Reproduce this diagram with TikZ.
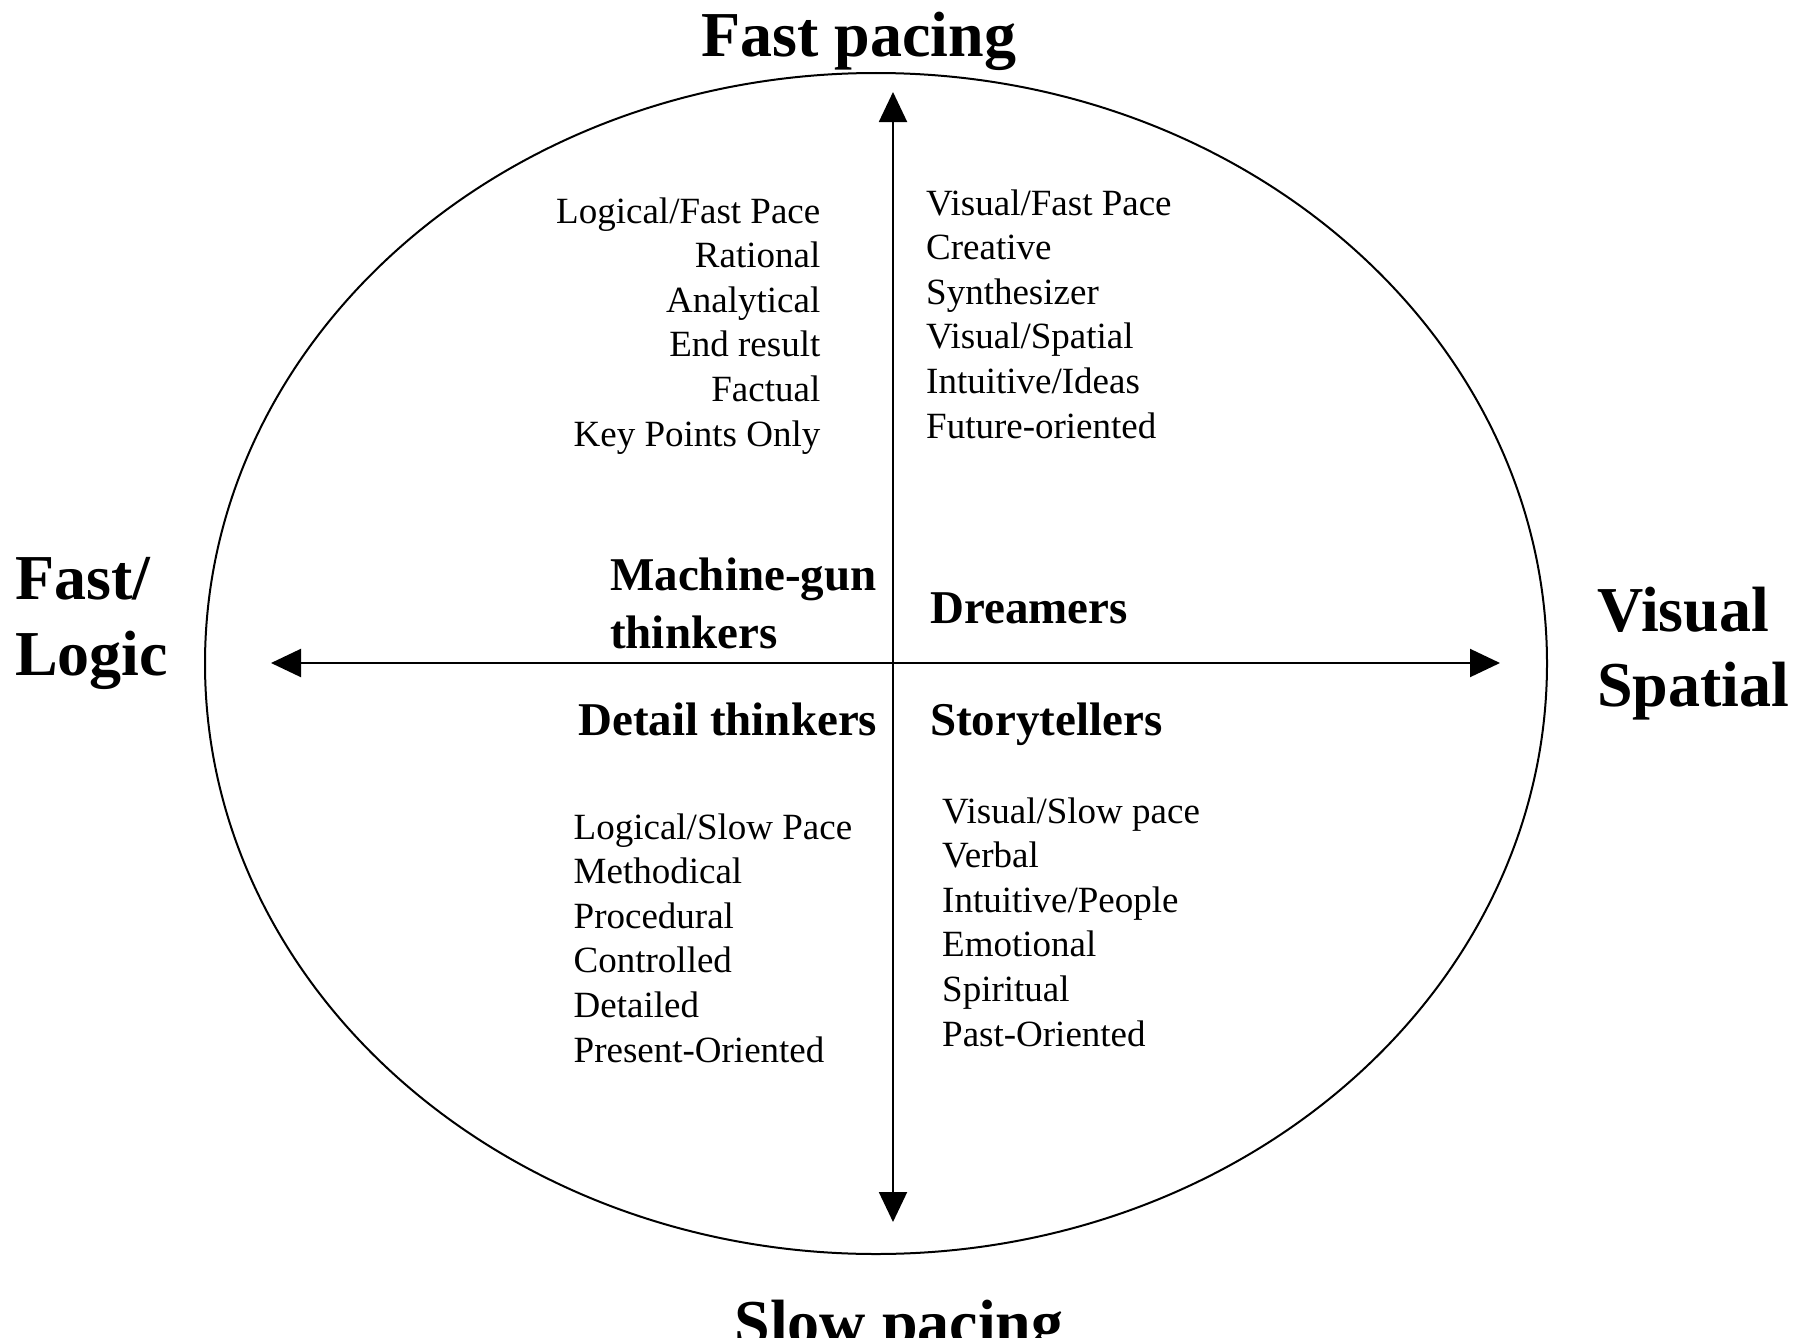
\documentclass[tikz,border=0pt]{standalone}
\usepackage{fontspec}
\setmainfont{Liberation Serif}
\usetikzlibrary{arrows.meta,shapes.geometric}
\tikzset{
  reg/.style={inner sep=0pt, font=\fontsize{37}{44}\selectfont},
  lab/.style={inner sep=0pt, font=\fontsize{47}{56}\selectfont\bfseries},
  big/.style={inner sep=0pt, font=\fontsize{64}{76}\selectfont\bfseries},
  axisline/.style={line width=2pt, {Triangle[length=30pt,width=28pt]}-{Triangle[length=30pt,width=28pt]}},
  oval/.style={draw, ellipse, line width=2pt, inner sep=0pt, minimum width=1342pt, minimum height=1181pt}
}
\begin{document}
\begin{tikzpicture}[x=1pt, y=-1pt]
\fill[white] (0,0) rectangle (1802,1338);
\useasboundingbox (0,0) rectangle (1802,1338);
\node[oval] (ov) at (876,663.5) {};
\coordinate (top) at (893,92);
\coordinate (bot) at (893,1222);
\coordinate (lft) at (271,663);
\coordinate (rgt) at (1500,663);
\draw[axisline] (top) -- (bot);
\draw[axisline] (lft) -- (rgt);
% axis labels
\node[big, anchor=base] (fastp) at (859,57) {Fast pacing};
\node[big, anchor=base] (slowp) at (899,1344) {Slow pacing};
\node[big, anchor=base west] (fl1) at (15,599) {Fast/};
\node[big, anchor=base west] (fl2) at (15,675) {Logic};
\node[big, anchor=base west] (vs1) at (1597,631) {Visual};
\node[big, anchor=base west] (vs2) at (1597,706) {Spatial};
% quadrant labels
\node[lab, anchor=base west] (mg1) at (610,590) {Machine-gun};
\node[lab, anchor=base west] (mg2) at (610,648) {thinkers};
\node[lab, anchor=base west] (dre) at (930,623) {Dreamers};
\node[lab, anchor=base west] (det) at (578,735) {Detail thinkers};
\node[lab, anchor=base west] (sto) at (930,735) {Storytellers};
% top left list
\foreach \t [count=\i from 0] in {Logical/Fast Pace, Rational, Analytical, End result, Factual, Key Points Only}
  \node[reg, anchor=base east] (tl\i) at (820.5,{223+44.6*\i}) {\t};
% top right list
\foreach \t [count=\i from 0] in {Visual/Fast Pace, Creative, Synthesizer, Visual/Spatial, Intuitive/Ideas, Future-oriented}
  \node[reg, anchor=base west] (tr\i) at (926,{215+44.6*\i}) {\t};
% bottom left list
\foreach \t [count=\i from 0] in {Logical/Slow Pace, Methodical, Procedural, Controlled, Detailed, Present-Oriented}
  \node[reg, anchor=base west] (bl\i) at (573.5,{839+44.6*\i}) {\t};
% bottom right list
\foreach \t [count=\i from 0] in {Visual/Slow pace, Verbal, Intuitive/People, Emotional, Spiritual, Past-Oriented}
  \node[reg, anchor=base west] (br\i) at (942,{823+44.6*\i}) {\t};
\end{tikzpicture}
\end{document}
